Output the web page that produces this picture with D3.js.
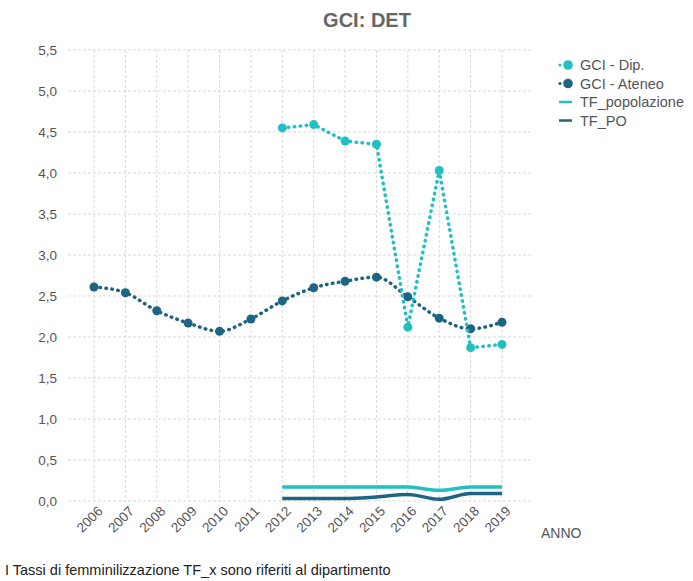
<!DOCTYPE html>
<html>
<head>
<meta charset="utf-8">
<script src="https://cdn.jsdelivr.net/npm/d3@7"></script>
<style>
  body { margin: 0; background: #fff; font-family: "Liberation Sans", Arial, sans-serif; }
  .grid line { stroke: #d9d9d9; stroke-dasharray: 3,2; }
  .axis text { fill: #555; font-size: 13.5px; }
  .legend text { fill: #555; font-size: 14.5px; }
</style>
</head>
<body>
<svg id="chart"></svg>
<script>
// data
const years = [2006, 2007, 2008, 2009, 2010, 2011, 2012, 2013, 2014, 2015, 2016, 2017, 2018, 2019];
const yearsDip = [2012, 2013, 2014, 2015, 2016, 2017, 2018, 2019];
const gciDip = [4.55, 4.59, 4.39, 4.35, 2.12, 4.03, 1.87, 1.91];
const gciAteneo = [2.61, 2.54, 2.32, 2.17, 2.07, 2.22, 2.44, 2.60, 2.68, 2.73, 2.49, 2.23, 2.10, 2.18];
const tfPopolazione = [0.17, 0.17, 0.17, 0.17, 0.17, 0.13, 0.17, 0.17];
const tfPO = [0.03, 0.03, 0.03, 0.05, 0.08, 0.02, 0.09, 0.09];
const yTicks = [0, 0.5, 1, 1.5, 2, 2.5, 3, 3.5, 4, 4.5, 5, 5.5];
const legendItems = [
  {label: 'GCI - Dip.', color: '#22c0c0', type: 'dot'},
  {label: 'GCI - Ateneo', color: '#1d6583', type: 'dot'},
  {label: 'TF_popolazione', color: '#22c0c0', type: 'line'},
  {label: 'TF_PO', color: '#1d6583', type: 'line'}
];

const W = 693, H = 581;
const svg = d3.select('#chart').attr('width', W).attr('height', H);

const x = d3.scalePoint().domain(years).range([94, 502]);
const y = d3.scaleLinear().domain([0, 5.5]).range([501, 50]);

// gridlines
const grid = svg.append('g').attr('class', 'grid');
grid.selectAll('.hl').data(yTicks).join('line')
  .attr('x1', 68).attr('x2', 532)
  .attr('y1', d => y(d)).attr('y2', d => y(d));
grid.selectAll('.vl').data(years).join('line')
  .attr('x1', d => x(d)).attr('x2', d => x(d))
  .attr('y1', 50).attr('y2', 501);

// axes
const fmt = d => d3.format('.1f')(d).replace('.', ',');
const yAxisG = svg.append('g').attr('class', 'axis')
  .attr('transform', 'translate(68,0)')
  .call(d3.axisLeft(y).tickValues(yTicks).tickFormat(fmt).tickSize(0).tickPadding(11));
yAxisG.select('.domain').remove();

const xAxisG = svg.append('g').attr('class', 'axis')
  .attr('transform', 'translate(0,501)')
  .call(d3.axisBottom(x).tickSize(0).tickPadding(0));
xAxisG.select('.domain').remove();
xAxisG.selectAll('text')
  .attr('text-anchor', 'end')
  .attr('dy', 0)
  .attr('transform', 'translate(9,11) rotate(-45)');

svg.append('text').attr('x', 541).attr('y', 538)
  .attr('fill', '#555').style('font-size', '14px').text('ANNO');

// title
svg.append('text').attr('x', 367).attr('y', 27)
  .attr('text-anchor', 'middle').attr('fill', '#666')
  .style('font-size', '20px').style('font-weight', 'bold')
  .text('GCI: DET');

// TF lines (solid)
const solid = d3.line().x((d, i) => x(yearsDip[i])).y(d => y(d)).curve(d3.curveMonotoneX);
svg.append('path').datum(tfPopolazione)
  .attr('fill', 'none').attr('stroke', '#22c0c0').attr('stroke-width', 3.5)
  .attr('d', solid);
svg.append('path').datum(tfPO)
  .attr('fill', 'none').attr('stroke', '#1d6583').attr('stroke-width', 3.5)
  .attr('d', solid);

// GCI dotted lines
function dotted(values, xs, color, curve) {
  const line = d3.line().x((d, i) => x(xs[i])).y(d => y(d)).curve(curve);
  svg.append('path').datum(values)
    .attr('fill', 'none').attr('stroke', color).attr('stroke-width', 3.5)
    .attr('stroke-linecap', 'round').attr('stroke-dasharray', '0.5,5.5')
    .attr('d', line);
  svg.append('g').selectAll('circle').data(values).join('circle')
    .attr('cx', (d, i) => x(xs[i])).attr('cy', d => y(d))
    .attr('r', 4.5).attr('fill', color);
}
dotted(gciAteneo, years, '#1d6583', d3.curveMonotoneX);
dotted(gciDip, yearsDip, '#22c0c0', d3.curveLinear);

// legend
const legend = svg.append('g').attr('class', 'legend').attr('transform', 'translate(562,65)');
const rows = legend.selectAll('g').data(legendItems).join('g')
  .attr('transform', (d, i) => `translate(0,${i * 18.5})`);
rows.filter(d => d.type === 'dot').append('circle')
  .attr('cx', -2).attr('cy', 0).attr('r', 1.6).attr('fill', d => d.color);
rows.filter(d => d.type === 'dot').append('circle')
  .attr('cx', 6).attr('cy', 0).attr('r', 4.8).attr('fill', d => d.color);
rows.filter(d => d.type === 'line').append('line')
  .attr('x1', -3).attr('x2', 10).attr('y1', 0).attr('y2', 0)
  .attr('stroke', d => d.color).attr('stroke-width', 2.5);
rows.append('text').attr('x', 18).attr('y', 5).text(d => d.label);

// footer note
svg.append('text').attr('x', 5).attr('y', 575)
  .attr('fill', '#222').style('font-size', '14.5px')
  .text('I Tassi di femminilizzazione TF_x sono riferiti al dipartimento');
</script>
</body>
</html>
